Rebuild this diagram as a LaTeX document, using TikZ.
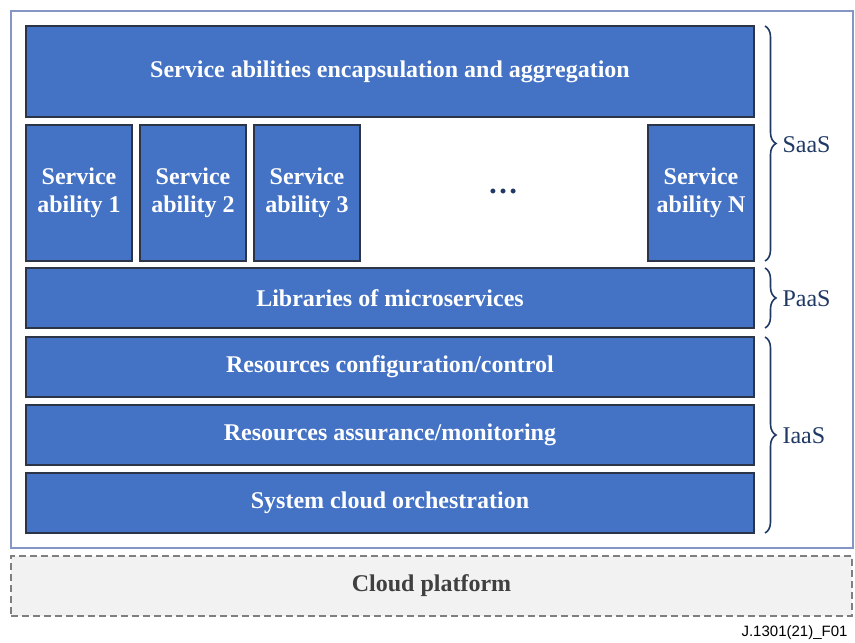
\documentclass[tikz,border=0pt]{standalone}
\usepackage{fontspec}
\setmainfont{Liberation Serif}
\setsansfont{Liberation Sans}
\usetikzlibrary{decorations.pathreplacing}
\definecolor{boxblue}{HTML}{4472C4}
\definecolor{boxline}{HTML}{2B3547}
\definecolor{navy}{HTML}{1F3864}
\definecolor{framec}{HTML}{8595C4}
\definecolor{cloudfill}{HTML}{F2F2F2}
\definecolor{cloudline}{HTML}{7F7F7F}
\definecolor{cloudtext}{HTML}{404040}
\tikzset{
  x=1pt, y=-1pt,
  bluebox/.style={draw=boxline, line width=1.3pt, fill=boxblue, text=white,
    font=\bfseries\fontsize{24}{28}\selectfont, align=center, inner sep=0pt},
  bracestyle/.style={draw=navy, line width=1.6pt,
    decorate, decoration={brace, amplitude=11pt}},
  bracelabel/.style={text=navy, font=\fontsize{24}{28}\selectfont, anchor=west}
}
\begin{document}
\begin{tikzpicture}
\useasboundingbox (0,0) rectangle (855,643);
% outer frame
\draw[framec, line width=1.2pt] (11,11) rectangle (853,548);
% top box
\node[bluebox, minimum width=728pt, minimum height=91pt] (top) at (390,71.5) {Service abilities encapsulation and aggregation};
% service abilities
\node[bluebox, minimum width=106pt, minimum height=136pt] (sa1) at (79,193) {Service\\ability 1};
\node[bluebox, minimum width=106pt, minimum height=136pt] (sa2) at (193,193) {Service\\ability 2};
\node[bluebox, minimum width=106pt, minimum height=136pt] (sa3) at (307,193) {Service\\ability 3};
\node[bluebox, minimum width=106pt, minimum height=136pt] (saN) at (701,193) {Service\\ability N};
\node[text=navy, font=\bfseries\fontsize{30}{32}\selectfont] (dots) at (503,191) {\dots};
% layers
\node[bluebox, minimum width=728pt, minimum height=60pt] (lib) at (390,298) {Libraries of microservices};
\node[bluebox, minimum width=728pt, minimum height=60pt] (conf) at (390,367) {Resources configuration/control};
\node[bluebox, minimum width=728pt, minimum height=60pt] (assur) at (390,435) {Resources assurance/monitoring};
\node[bluebox, minimum width=728pt, minimum height=60pt] (orch) at (390,503) {System cloud orchestration};
% cloud platform
\node[draw=cloudline, dashed, dash pattern=on 7pt off 4pt, line width=1.4pt, fill=cloudfill,
  minimum width=841pt, minimum height=60pt, text=cloudtext,
  font=\bfseries\fontsize{24}{28}\selectfont] (cloud) at (431.5,586) {Cloud platform};
% braces
\coordinate (s1) at (765,26);
\coordinate (s2) at (765,261);
\coordinate (p1) at (765,268);
\coordinate (p2) at (765,328);
\coordinate (i1) at (765,337);
\coordinate (i2) at (765,533);
\draw[bracestyle] (s1) -- (s2);
\draw[bracestyle] (p1) -- (p2);
\draw[bracestyle] (i1) -- (i2);
\node[bracelabel] (saas) at (779,145) {SaaS};
\node[bracelabel] (paas) at (779,299) {PaaS};
\node[bracelabel] (iaas) at (779,436) {IaaS};
% figure id
\node[anchor=east, font=\sffamily\fontsize{15}{17}\selectfont] (fid) at (851,633) {J.1301(21)\_F01};
\end{tikzpicture}
\end{document}
